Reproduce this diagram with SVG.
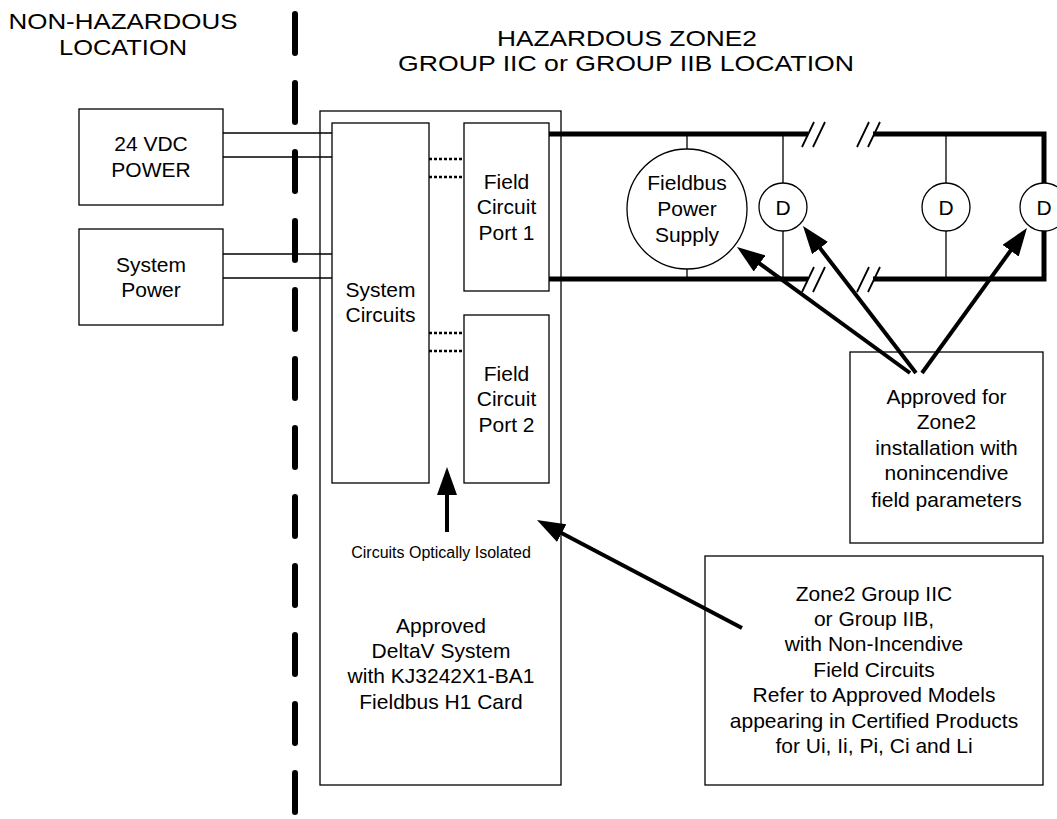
<svg xmlns="http://www.w3.org/2000/svg" width="1057" height="819" viewBox="0 0 1057 819">
<defs>
<style>
text{font-family:"Liberation Sans",Arial,sans-serif;fill:#000;text-anchor:middle}
.t{font-size:21px}
.h{font-size:22px}
.s{font-size:16px}
.box{fill:#fff;stroke:#000;stroke-width:1.3}
.thin{stroke:#000;stroke-width:1.3;fill:none}
.bus{stroke:#000;stroke-width:5;fill:none;stroke-linejoin:miter}
.dot{stroke:#000;stroke-width:2.5;stroke-dasharray:3 2;fill:none}
.brk{stroke:#000;stroke-width:1.8;fill:none}
.arr{stroke:#000;stroke-width:4;fill:none;marker-end:url(#ah)}
.circ{fill:#fff;stroke:#000;stroke-width:1.3}
</style>
<marker id="ah" viewBox="0 0 28 20" refX="18" refY="10" markerWidth="28" markerHeight="20" markerUnits="userSpaceOnUse" orient="auto">
<path d="M0,0 L28,10 L0,20 z" fill="#000"/>
</marker>
</defs>
<rect width="1057" height="819" fill="#fff"/>

<g id="headers">
<text class="h" x="123" y="29" textLength="229" lengthAdjust="spacingAndGlyphs">NON-HAZARDOUS</text>
<text class="h" x="123" y="55" textLength="128" lengthAdjust="spacingAndGlyphs">LOCATION</text>
<text class="h" x="627" y="46" textLength="260" lengthAdjust="spacingAndGlyphs">HAZARDOUS ZONE2</text>
<text class="h" x="626" y="71" textLength="456" lengthAdjust="spacingAndGlyphs">GROUP IIC or GROUP IIB LOCATION</text>
</g>

<g id="boundary">
<line x1="295" y1="14" x2="295" y2="819" stroke="#000" stroke-width="6" stroke-linecap="round" stroke-dasharray="39 30"/>
</g>

<g id="deltav-system">
<rect class="box" x="320" y="111" width="241" height="674"/>
<text class="t" x="441" y="633">Approved</text>
<text class="t" x="441" y="658">DeltaV System</text>
<text class="t" x="441" y="683">with KJ3242X1-BA1</text>
<text class="t" x="441" y="709">Fieldbus H1 Card</text>
</g>

<g id="connectors">
<line class="thin" x1="223" y1="133" x2="332" y2="133"/>
<line class="thin" x1="223" y1="157" x2="332" y2="157"/>
<line class="thin" x1="223" y1="254" x2="332" y2="254"/>
<line class="thin" x1="223" y1="278" x2="332" y2="278"/>
<line class="dot" x1="429" y1="159" x2="464" y2="159"/>
<line class="dot" x1="429" y1="177" x2="464" y2="177"/>
<line class="dot" x1="429" y1="333" x2="464" y2="333"/>
<line class="dot" x1="429" y1="351" x2="464" y2="351"/>
<path class="bus" d="M549,134 H808 M873,134 H1044 V183 M549,279 H808 M873,279 H1044 V231"/>
<path class="brk" d="M802,147 L814,122 M813,147 L825,122 M857,147 L869,122 M868,147 L880,122 M802,292 L814,267 M813,292 L825,267 M857,292 L869,267 M868,292 L880,267"/>
<path class="thin" d="M687,134 V149 M687,269 V279 M783,134 V183 M783,231 V279 M946,134 V183 M946,231 V279"/>
</g>

<g id="power-24vdc">
<rect class="box" x="79" y="109" width="144" height="96"/>
<text class="t" x="151" y="151">24 VDC</text>
<text class="t" x="151" y="177">POWER</text>
</g>

<g id="system-power">
<rect class="box" x="79" y="229" width="144" height="96"/>
<text class="t" x="151" y="272">System</text>
<text class="t" x="151" y="297">Power</text>
</g>

<g id="system-circuits">
<rect class="box" x="332" y="123" width="97" height="360"/>
<text class="t" x="380.5" y="297">System</text>
<text class="t" x="380.5" y="322">Circuits</text>
</g>

<g id="field-port-1">
<rect class="box" x="464" y="123" width="85" height="168"/>
<text class="t" x="506.5" y="189">Field</text>
<text class="t" x="506.5" y="214">Circuit</text>
<text class="t" x="506.5" y="240">Port 1</text>
</g>

<g id="field-port-2">
<rect class="box" x="464" y="315" width="85" height="168"/>
<text class="t" x="506.5" y="381">Field</text>
<text class="t" x="506.5" y="406">Circuit</text>
<text class="t" x="506.5" y="432">Port 2</text>
</g>

<g id="fieldbus-power-supply">
<circle class="circ" cx="687" cy="209" r="60"/>
<text class="t" x="687" y="190">Fieldbus</text>
<text class="t" x="687" y="216">Power</text>
<text class="t" x="687" y="242">Supply</text>
</g>

<g id="device-1">
<circle class="circ" cx="783" cy="207" r="24"/>
<text class="t" x="783" y="214.5">D</text>
</g>
<g id="device-2">
<circle class="circ" cx="946" cy="207" r="24"/>
<text class="t" x="946" y="214.5">D</text>
</g>
<g id="device-3">
<circle class="circ" cx="1044" cy="207" r="24"/>
<text class="t" x="1044" y="214.5">D</text>
</g>

<g id="zone2-approval-note">
<rect class="box" x="850" y="352" width="193" height="191"/>
<text class="t" x="946.5" y="404">Approved for</text>
<text class="t" x="946.5" y="429">Zone2</text>
<text class="t" x="946.5" y="455">installation with</text>
<text class="t" x="946.5" y="480">nonincendive</text>
<text class="t" x="946.5" y="507">field parameters</text>
</g>

<g id="field-circuits-note">
<rect class="box" x="705" y="556" width="338" height="229"/>
<text class="t" x="874" y="601">Zone2 Group IIC</text>
<text class="t" x="874" y="626">or Group IIB,</text>
<text class="t" x="874" y="651">with Non-Incendive</text>
<text class="t" x="874" y="677">Field Circuits</text>
<text class="t" x="874" y="702">Refer to Approved Models</text>
<text class="t" x="874" y="728">appearing in Certified Products</text>
<text class="t" x="874" y="753">for Ui, Ii, Pi, Ci and Li</text>
</g>

<g id="isolation-label">
<text class="s" x="441" y="558">Circuits Optically Isolated</text>
</g>

<g id="arrows">
<line class="arr" x1="910" y1="373" x2="745.1" y2="252.9"/>
<line class="arr" x1="916" y1="373" x2="809.1" y2="233.9"/>
<line class="arr" x1="922" y1="373" x2="1021.1" y2="236.1"/>
<line class="arr" x1="447" y1="532" x2="447" y2="477"/>
<line class="arr" x1="742" y1="628" x2="545.8" y2="524.7"/>
</g>
</svg>
